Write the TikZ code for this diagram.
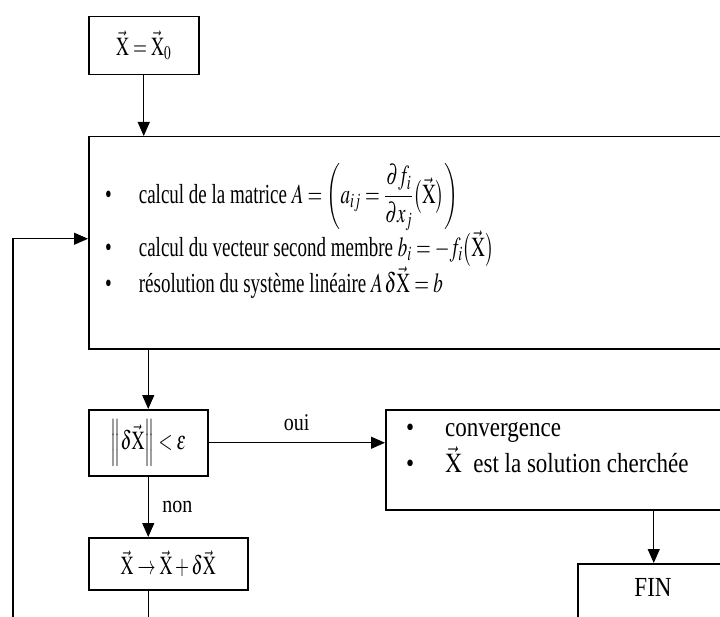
\documentclass[tikz,border=0pt]{standalone}
\usepackage{amsmath}
\usepackage{mathptmx}
\usepackage{fontspec}
\setmainfont{Liberation Serif}
\usepackage{graphicx}
\usetikzlibrary{positioning,arrows.meta}
\newcommand{\vX}{\vec{\mathrm{X}}}
\newcommand{\hautA}[1]{\scalebox{1}[1.45]{#1}}
\newcommand{\hautB}[1]{\scalebox{1}[1.2]{#1}}
\tikzset{
box/.style={
draw,
line width=1.5bp,
inner sep=0pt,
font=\fontsize{18bp}{22bp}\selectfont
},
listA/.style={
inner sep=0pt,
align=left,
font=\fontsize{19bp}{23bp}\selectfont
},
listB/.style={
inner sep=0pt,
align=left,
font=\fontsize{23bp}{27.6bp}\selectfont
},
lbl/.style={
inner sep=0pt,
font=\fontsize{20bp}{24bp}\selectfont
},
arrow/.style={
-{Triangle[length=14bp,width=12bp]},
line width=1.2bp
}
}

\begin{document}
\begin{tikzpicture}[x=1bp,y=-1bp]
\useasboundingbox (0,0) rectangle (720,617);
\clip (0,0) rectangle (720,617);
\fill[white] (0,0) rectangle (720,617);

% boites
\node[box,anchor=north west,minimum width=110bp,minimum height=58bp](init) at (88,16){\hautA{$\vX=\vX_0$}};
\node[box,anchor=north west,minimum width=680bp,minimum height=212bp](calc) at (88,136){};
\node[box,anchor=north west,minimum width=119bp,minimum height=66bp](test) at (88,409){\hautA{$\left\|\delta\vX\right\|<\varepsilon$}};
\node[box,anchor=north west,minimum width=159bp,minimum height=52bp](update) at (88,537){\hautA{$\vX\rightarrow\vX+\delta\vX$}};
\node[box,anchor=north west,minimum width=400bp,minimum height=100bp](conv) at (385,409){};
\node[box,anchor=north west,minimum width=152bp,minimum height=100bp](fin) at (577,563){};

% textes
\node[listA,anchor=south west](calctxt) at (105,303){\hautA{\begin{tabular}{@{}l@{\hspace{27bp}}l@{}}
\textbullet & calcul de la matrice $A=\left(a_{ij}=\dfrac{\partial f_i}{\partial x_j}\bigl(\vX\bigr)\right)$\\
\textbullet & calcul du vecteur second membre $b_i=-f_i\bigl(\vX\bigr)$\\
\textbullet & résolution du système linéaire $A\,\delta\vX=b$
\end{tabular}}};
\node[listB,anchor=south west](convtxt) at (406,483){\hautB{\begin{tabular}{@{}l@{\hspace{31bp}}l@{}}
\textbullet & convergence\\
\textbullet & $\vX$\ \ est la solution cherchée
\end{tabular}}};
\node[listB](fintxt) at (653,587){\hautB{FIN}};

% fleches
\foreach \a/\b in {init/calc,test/update}
\draw[arrow](\a.south)--(\a.south|-\b.north);
\foreach \a/\b in {calc/test,conv/fin}
\draw[arrow](\b.north|-\a.south)--(\b.north);
\draw[arrow](test.east)--node[lbl,above=11bp]{\hautB{oui}}(test.east-|conv.west);
\path(test.south)--node[lbl,right=14bp]{\hautB{non}}(test.south|-update.north);

% retour
\coordinate(retour) at (13,650);
\draw[arrow](test.south|-update.south)|-(retour)|-([yshift=4bp]calc.west);
\end{tikzpicture}
\end{document}
